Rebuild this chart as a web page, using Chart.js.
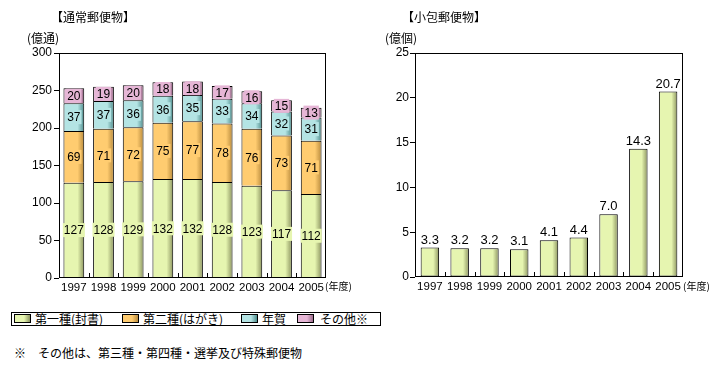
<!DOCTYPE html>
<html lang="ja">
<head>
<meta charset="utf-8">
<title>郵便物数の推移</title>
<script src="https://cdn.jsdelivr.net/npm/chart.js@4.4.1/dist/chart.umd.min.js"></script>
<style>
  body { margin: 0; background: #fff; }
  #page { position: relative; width: 726px; height: 370px; overflow: hidden; }
  canvas { position: absolute; top: 0; }
  .t { position: absolute; font: 12px "Noto Sans CJK JP", sans-serif; line-height: 14px; color: #000; white-space: nowrap; z-index: 2; }
  .small { font-size: 10px; }
  #legend { position: absolute; left: 11px; top: 312px; width: 368px; height: 12px; border: 1px solid #000; }
  .sw { position: absolute; top: 314px; width: 15px; height: 7px; border: 1px solid #000; z-index: 2; }
</style>
</head>
<body>
<div id="page">
  <canvas id="mailChart" width="363" height="300" style="left:0"></canvas>
  <canvas id="parcelChart" width="363" height="300" style="left:363px"></canvas>

  <div class="t" style="left:51px;top:10px">【通常郵便物】</div>
  <div class="t" style="left:27px;top:31px">(億通)</div>
  <div class="t small" style="left:325px;top:279px">(年度)</div>

  <div class="t" style="left:402px;top:10px">【小包郵便物】</div>
  <div class="t" style="left:385px;top:31px">(億個)</div>
  <div class="t small" style="left:683px;top:279px">(年度)</div>

  <div id="legend"></div>
  <span class="sw" style="left:14px;background:linear-gradient(to right,#e6f5b0 60%,#8c9460)"></span>
  <div class="t" style="left:35px;top:312px">第一種(封書)</div>
  <span class="sw" style="left:122px;background:linear-gradient(to right,#ffcc70 60%,#b88a3c)"></span>
  <div class="t" style="left:143px;top:312px">第二種(はがき)</div>
  <span class="sw" style="left:241px;background:linear-gradient(to right,#b4e4e4 60%,#4e8c8c)"></span>
  <div class="t" style="left:262px;top:312px">年賀</div>
  <span class="sw" style="left:297px;background:linear-gradient(to right,#e6b6d6 60%,#9a6a8a)"></span>
  <div class="t" style="left:320px;top:312px">その他※</div>

  <div class="t" style="left:14px;top:346px">※　その他は、第三種・第四種・選挙及び特殊郵便物</div>
</div>

<script>
// 年度
const years = ['1997', '1998', '1999', '2000', '2001', '2002', '2003', '2004', '2005'];

// 通常郵便物(億通)
const firstClass = [127, 128, 129, 132, 132, 128, 123, 117, 112];
const secondClass = [69, 71, 72, 75, 77, 78, 76, 73, 71];
const newYear = [37, 37, 36, 36, 35, 33, 34, 32, 31];
const others = [20, 19, 20, 18, 18, 17, 16, 15, 13];
const mailTicks = [0, 50, 100, 150, 200, 250, 300];

// 小包郵便物(億個)
const parcels = [3.3, 3.2, 3.2, 3.1, 4.1, 4.4, 7.0, 14.3, 20.7];
const parcelTicks = [0, 5, 10, 15, 20, 25];

const numFont = '"Liberation Sans", Arial, sans-serif';

// 棒の右側を暗くするグラデーション
function barFill(base, dark, pct) {
    return function(c) {
        const chart = c.chart;
        const xs = chart.scales.x;
        if (!chart.chartArea || !xs) return base;
        const center = xs.getPixelForValue(c.dataIndex);
        const half = xs.width / years.length * pct / 2;
        if (!isFinite(center)) return base;
        const g = chart.ctx.createLinearGradient(center - half, 0, center + half, 0);
        g.addColorStop(0, base);
        g.addColorStop(0.68, base);
        g.addColorStop(1, dark);
        return g;
    };
}

// 枠線と内向きの目盛り
const framePlugin = {
    id: 'frame',
    afterDatasetsDraw(chart) {
        const { ctx, chartArea: a } = chart;
        const xs = chart.scales.x;
        ctx.save();
        ctx.strokeStyle = '#000';
        ctx.lineWidth = 1;
        ctx.strokeRect(a.left + 0.5, a.top + 0.5, a.right - a.left - 1, a.bottom - a.top - 1);
        ctx.beginPath();
        for (let i = 0; i < years.length - 1; i++) {
            const x = Math.round((xs.getPixelForValue(i) + xs.getPixelForValue(i + 1)) / 2) + 0.5;
            ctx.moveTo(x, a.bottom);
            ctx.lineTo(x, a.bottom - 5);
        }
        ctx.stroke();
        ctx.restore();
    }
};

// 値ラベル
const valueLabels = {
    id: 'valueLabels',
    afterDatasetsDraw(chart, args, opts) {
        const ctx = chart.ctx;
        ctx.save();
        ctx.font = opts.size + 'px ' + numFont;
        ctx.textAlign = 'center';
        chart.data.datasets.forEach((ds, di) => {
            chart.getDatasetMeta(di).data.forEach((bar, i) => {
                const txt = ds.data[i].toFixed(opts.decimals);
                if (opts.inside) {
                    const y = (bar.y + bar.base) / 2;
                    const w = ctx.measureText(txt).width + 2;
                    ctx.fillStyle = ds.labelBg;
                    ctx.fillRect(bar.x - w / 2, y - 7, w, 14);
                    ctx.fillStyle = '#000';
                    ctx.textBaseline = 'middle';
                    ctx.fillText(txt, bar.x, y + 1);
                } else {
                    ctx.fillStyle = '#000';
                    ctx.textBaseline = 'bottom';
                    ctx.fillText(txt, bar.x, bar.y - 1);
                }
            });
        });
        ctx.restore();
    }
};

function yScale(max, step, ticksList, width, pad, stacked) {
    return {
        stacked: stacked,
        min: 0,
        max: max,
        afterBuildTicks: s => { s.ticks = ticksList.map(v => ({ value: v })); },
        afterFit: s => { s.width = width; },
        grid: { drawOnChartArea: false, tickLength: 5, color: '#000' },
        border: { display: false },
        ticks: { stepSize: step, padding: pad, color: '#000', font: { family: numFont, size: 12 } }
    };
}

function xScale(height, stacked) {
    return {
        stacked: stacked,
        afterFit: s => { s.height = height; },
        grid: { display: false, drawTicks: false, tickLength: 0 },
        border: { display: false },
        ticks: { padding: 3, color: '#000', maxRotation: 0, autoSkip: false, font: { family: numFont, size: 11.5 } }
    };
}

const mailPct = 0.7;
function mailSet(label, data, base, dark) {
    return {
        label: label,
        data: data,
        backgroundColor: barFill(base, dark, mailPct),
        labelBg: base,
        borderColor: '#000',
        borderWidth: 1,
        categoryPercentage: 1,
        barPercentage: mailPct
    };
}

new Chart(document.getElementById('mailChart'), {
    type: 'bar',
    data: {
        labels: years,
        datasets: [
            mailSet('第一種(封書)', firstClass, '#e6f5b0', '#8c9460'),
            mailSet('第二種(はがき)', secondClass, '#ffcc70', '#b88a3c'),
            mailSet('年賀', newYear, '#b4e4e4', '#4e8c8c'),
            mailSet('その他※', others, '#e6b6d6', '#9a6a8a')
        ]
    },
    options: {
        responsive: false,
        animation: false,
        layout: { padding: { left: 0, top: 53, right: 37, bottom: 0 } },
        plugins: {
            legend: { display: false },
            tooltip: { enabled: false },
            valueLabels: { inside: true, decimals: 0, size: 12 }
        },
        scales: {
            x: xScale(22, true),
            y: yScale(300, 50, mailTicks, 59, 2, true)
        }
    },
    plugins: [framePlugin, valueLabels]
});

const parcelPct = 0.62;
new Chart(document.getElementById('parcelChart'), {
    type: 'bar',
    data: {
        labels: years,
        datasets: [{
            label: '小包郵便物',
            data: parcels,
            backgroundColor: barFill('#e6f5b0', '#8c9460', parcelPct),
            borderColor: '#000',
            borderWidth: 1,
            borderSkipped: false,
            categoryPercentage: 1,
            barPercentage: parcelPct
        }]
    },
    options: {
        responsive: false,
        animation: false,
        layout: { padding: { left: 0, top: 53, right: 43, bottom: 0 } },
        plugins: {
            legend: { display: false },
            tooltip: { enabled: false },
            valueLabels: { inside: false, decimals: 1, size: 13 }
        },
        scales: {
            x: xScale(23, false),
            y: yScale(25, 5, parcelTicks, 52, 1, false)
        }
    },
    plugins: [framePlugin, valueLabels]
});
</script>
</body>
</html>
